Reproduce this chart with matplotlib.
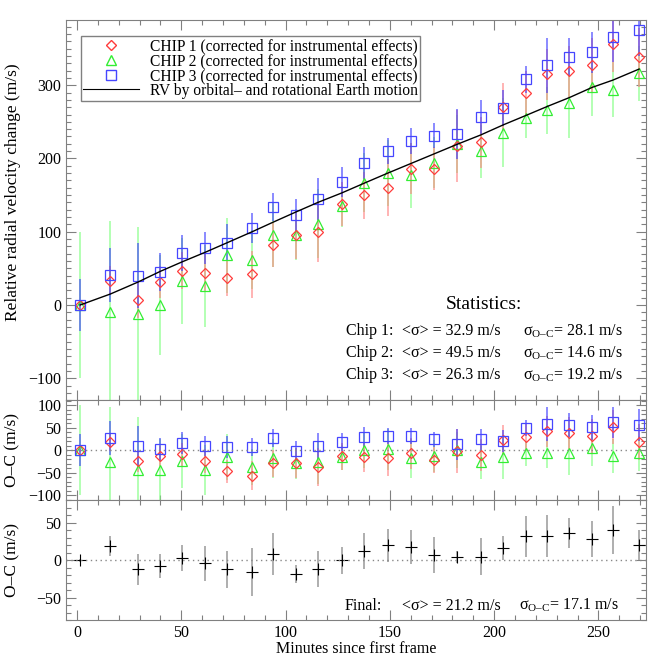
# RV of the three chips vs. Earth motion model, plus O-C residuals
import numpy as np
import matplotlib
matplotlib.use("Agg")
import matplotlib.pyplot as plt
from matplotlib.lines import Line2D
from matplotlib.ticker import MultipleLocator

plt.rcParams['font.family'] = ['Liberation Serif', 'DejaVu Serif']
plt.rcParams['mathtext.fontset'] = 'custom'
plt.rcParams['mathtext.rm'] = 'Liberation Serif'
plt.rcParams['axes.unicode_minus'] = True

# minutes since first frame
t_min = [1.5, 16, 29, 40, 50.5, 61.5, 72, 84, 94, 105, 115.5, 127, 137.5,
         149, 160, 171, 182, 193.5, 204.5, 215.5, 225.5, 236, 247, 257, 269.5]

# relative RV change (m/s)
chip1 = [0, 33, 7, 31, 47, 44, 37, 42, 82, 96, 100, 138, 150, 160, 186, 186,
         217, 222, 270, 289, 315, 319, 327, 356, 338]
chip2 = [0, -10, -12, 0, 33, 26, 68, 62, 96, 96, 111, 135, 167, 180, 177, 194,
         220, 210, 235, 255, 266, 276, 298, 294, 316]
chip3 = [0, 41, 40, 45, 71, 78, 85, 105, 134, 123, 145, 168, 194, 210, 224, 231,
         233, 257, 269, 308, 327, 338, 345, 366, 375]
err1 = [3, 20, 25, 22, 25, 26, 25, 32, 30, 33, 42, 30, 32, 39, 35, 29, 49, 35,
        33, 30, 35, 35, 38, 38, 40]
err2 = [100, 124, 118, 68, 59, 56, 51, 40, 44, 35, 47, 28, 40, 45, 44, 35, 40,
        36, 47, 27, 32, 48, 40, 38, 38]
err3 = [36, 37, 44, 26, 24, 22, 25, 20, 19, 22, 29, 20, 22, 18, 18, 17, 34, 23,
        25, 18, 37, 26, 28, 35, 35]

# model: orbital + rotational Earth motion
rv_model = [0, 15, 31, 46, 59, 72, 85, 100, 113, 127, 140, 153, 166, 180, 193,
            206, 219, 232, 246, 259, 271, 283, 297, 307, 322]

# O-C per chip
oc1 = [0, 18, -24, -13, -9, -24, -47, -57, -29, -29, -38, -13, -16, -18, -7,
       -22, -2, -11, 22, 29, 42, 38, 31, 51, 18]
oc2 = [0, -27, -44, -44, -24, -44, -16, -38, -18, -29, -27, -16, 0, 2, -18,
       -13, 0, -27, -16, -7, -7, -7, 4, -13, -7]
oc3 = [0, 27, 9, 2, 16, 9, 7, 7, 27, -2, 9, 18, 29, 31, 31, 24, 13, 24, 20,
       49, 58, 56, 51, 62, 56]

# combined O-C
final = [0, 19, -12, -8, 3, -4, -12, -16, 8, -18, -11, 0, 12, 20, 18, 7, 4, 5,
         16, 32, 33, 37, 28, 41, 20]
final_err = [2, 13, 21, 16, 17, 23, 25, 32, 28, 12, 24, 18, 24, 22, 23, 24, 8,
             25, 16, 27, 28, 20, 24, 32, 20]

stats = [("Chip 1:", "32.9", "28.1"),
         ("Chip 2:", "49.5", "14.6"),
         ("Chip 3:", "26.3", "19.2")]

SIG_OC = '$\\mathregular{\u03c3_{O\u2013C}}$'

RED, GREEN, BLUE = '#ff3b3b', '#33ee33', '#4646ff'
ERED, EGREEN, EBLUE = '#ff8080', '#80ff80', '#3a3aff'
FRAME = '#808080'

fig = plt.figure(figsize=(6.67, 6.67), dpi=100)
ax1 = fig.add_axes([0.099, 0.400, 0.870, 0.570])
ax2 = fig.add_axes([0.099, 0.250, 0.870, 0.150])
ax3 = fig.add_axes([0.099, 0.070, 0.870, 0.180])

def style(ax, ymaj, ymin):
    ax.xaxis.set_major_locator(MultipleLocator(50))
    ax.xaxis.set_minor_locator(MultipleLocator(10))
    ax.yaxis.set_major_locator(MultipleLocator(ymaj))
    ax.yaxis.set_minor_locator(MultipleLocator(ymin))
    ax.tick_params(which='both', direction='in', top=True, right=True,
                   color=FRAME, labelsize=11.5)
    ax.tick_params(which='major', length=7, width=0.8)
    ax.tick_params(which='minor', length=3.5, width=0.8)
    for s in ax.spines.values():
        s.set_color(FRAME)
    ax.set_xlim(-5.3, 273)

def chips(ax, ys, errs):
    cols = [(ys[1], errs[1], EGREEN, GREEN, '^', 7),
            (ys[0], errs[0], ERED, RED, 'D', 5),
            (ys[2], errs[2], EBLUE, BLUE, 's', 7.5)]
    for y, e, ec, mc, m, ms in cols:
        ax.errorbar(t_min, y, yerr=e, fmt='none', ecolor=ec, elinewidth=1.1,
                    alpha=0.75, capsize=0)
    for y, e, ec, mc, m, ms in cols:
        ax.plot(t_min, y, ls='none', marker=m, ms=ms, mfc='none', mec=mc,
                mew=0.9)

# top panel
chips(ax1, [chip1, chip2, chip3], [err1, err2, err3])
ax1.plot(t_min, rv_model, color='k', lw=1.0)
style(ax1, 100, 10)
ax1.set_ylim(-130, 389)
ax1.set_xticklabels([])
ax1.set_ylabel('Relative radial velocity change (m/s)', fontsize=12.5)

handles = [Line2D([], [], ls='none', marker='D', ms=5, mfc='none', mec=RED),
           Line2D([], [], ls='none', marker='^', ms=7, mfc='none', mec=GREEN),
           Line2D([], [], ls='none', marker='s', ms=7, mfc='none', mec=BLUE),
           Line2D([], [], color='k', lw=0.8)]
labels = ['CHIP 1 (corrected for instrumental effects)',
          'CHIP 2 (corrected for instrumental effects)',
          'CHIP 3 (corrected for instrumental effects)',
          'RV by orbital\u2013 and rotational Earth motion']
leg = ax1.legend(handles, labels, loc='upper left', fontsize=11.2,
                 frameon=True, fancybox=False, edgecolor=FRAME,
                 bbox_to_anchor=(0.012, 0.978), borderpad=0.15,
                 labelspacing=-0.08, handlelength=3.6, handletextpad=0.7,
                 framealpha=1)
leg.get_frame().set_linewidth(1.0)

ax1.text(0.720, 0.239, 'Statistics:', transform=ax1.transAxes, ha='center',
         va='baseline', fontsize=14)
for i, (name, sig, soc) in enumerate(stats):
    yy = 0.171 - i * 0.058
    ax1.text(0.482, yy, name, transform=ax1.transAxes, fontsize=11.5,
             va='baseline')
    ax1.text(0.579, yy, '<\u03c3> = %s m/s' % sig, transform=ax1.transAxes,
             fontsize=11.5, va='baseline')
    ax1.text(0.787, yy, SIG_OC + '= %s m/s' % soc,
             transform=ax1.transAxes, fontsize=11.5, va='baseline')

# middle panel
chips(ax2, [oc1, oc2, oc3], [err1, err2, err3])
ax2.axhline(0, color='#888888', ls=(0, (1, 2.5)), lw=1.0)
style(ax2, 50, 10)
ax2.set_ylim(-111, 111)
ax2.set_xticklabels([])
ax2.set_ylabel('O\u2013C (m/s)', fontsize=12.5)

# bottom panel
ax3.errorbar(t_min, final, yerr=final_err, fmt='none', ecolor='#999999',
             elinewidth=1.1, capsize=0)
ax3.plot(t_min, final, ls='none', marker='+', ms=8, mec='k', mew=0.8)
ax3.axhline(0, color='#888888', ls=(0, (1, 2.5)), lw=1.0)
style(ax3, 50, 10)
ax3.set_ylim(-80, 80)
ax3.set_ylabel('O\u2013C (m/s)', fontsize=12.5)
ax3.set_xlabel('Minutes since first frame', fontsize=11.5, labelpad=0)
ax3.text(0.480, 0.09, 'Final:', transform=ax3.transAxes, fontsize=11.5,
         va='baseline')
ax3.text(0.579, 0.09, '<\u03c3> = 21.2 m/s', transform=ax3.transAxes,
         fontsize=11.5, va='baseline')
ax3.text(0.780, 0.09, SIG_OC + '= 17.1 m/s',
         transform=ax3.transAxes, fontsize=11.5, va='baseline')

ax1.yaxis.set_label_coords(-0.078, 0.547)
ax2.yaxis.set_label_coords(-0.078, 0.5)
ax3.yaxis.set_label_coords(-0.078, 0.5)

fig.savefig('out.png', dpi=100)
